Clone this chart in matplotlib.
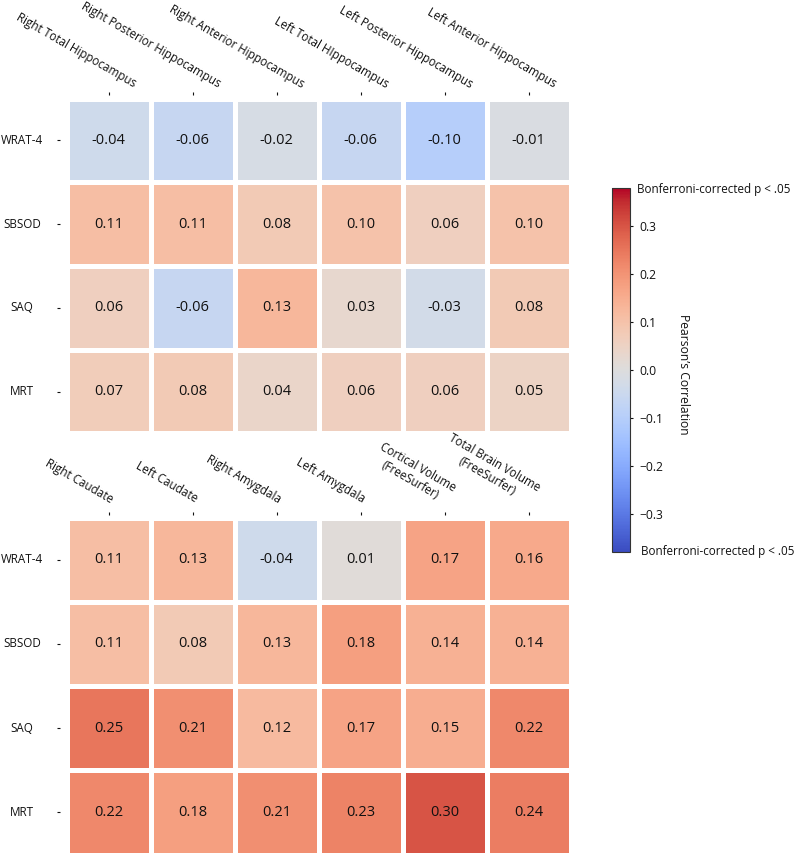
import numpy as np
import matplotlib
matplotlib.use("Agg")
import matplotlib.pyplot as plt
import seaborn as sns
from matplotlib.transforms import ScaledTranslation

plt.rcParams['font.family'] = ['Open Sans', 'DejaVu Sans']

# Data
measures = ['WRAT-4', 'SBSOD', 'SAQ', 'MRT']
hippo_regions = ['Right Total Hippocampus', 'Right Posterior Hippocampus',
                 'Right Anterior Hippocampus', 'Left Total HIppocampus',
                 'Left Posterior Hippocampus', 'Left Anterior Hippocampus']
other_regions = ['Right Caudate', 'Left Caudate', 'Right Amygdala', 'Left Amygdala',
                 'Cortical Volume\n(FreeSurfer)', 'Total Brain Volume\n(FreeSurfer)']
hippo_r = [[-0.04, -0.06, -0.02, -0.06, -0.10, -0.01],
           [0.11, 0.11, 0.08, 0.10, 0.06, 0.10],
           [0.06, -0.06, 0.13, 0.03, -0.03, 0.08],
           [0.07, 0.08, 0.04, 0.06, 0.06, 0.05]]
other_r = [[0.11, 0.13, -0.04, 0.01, 0.17, 0.16],
           [0.11, 0.08, 0.13, 0.18, 0.14, 0.14],
           [0.25, 0.21, 0.12, 0.17, 0.15, 0.22],
           [0.22, 0.18, 0.21, 0.23, 0.30, 0.24]]
cbar_ticks = [-0.3, -0.2, -0.1, 0.0, 0.1, 0.2, 0.3]
vlim = 0.38

W, H = 800, 857
fig = plt.figure(figsize=(W / 100, H / 100), dpi=100)
lab_size = 8.4


def px_axes(x0, y0, x1, y1):
    return fig.add_axes([x0 / W, 1 - y1 / H, (x1 - x0) / W, (y1 - y0) / H])


def draw_map(ax, data, cols, label_dx, tick_out, label_pad):
    sns.heatmap(np.array(data), ax=ax, cmap='coolwarm', vmin=-vlim, vmax=vlim,
                annot=True, fmt='.2f', linewidths=3.6, linecolor='white', cbar=False,
                annot_kws={'color': '#111111', 'fontsize': 10.5},
                xticklabels=cols, yticklabels=measures)
    ax.xaxis.tick_top()
    ax.spines['top'].set_position(('outward', tick_out * 0.72))
    ax.spines['left'].set_position(('outward', 6.5 * 0.72))
    ax.tick_params(axis='x', length=2.2, width=0.8, pad=label_pad * 0.72,
                   labelsize=lab_size, colors='#111111')
    ax.tick_params(axis='y', length=2.2, width=0.8, pad=35 * 0.72,
                   labelsize=lab_size, colors='#111111')
    ax.set_xticklabels(cols, rotation=-30, ha='right', va='baseline',
                       rotation_mode='anchor', multialignment='center')
    ax.set_yticklabels(measures, rotation=0, ha='center', va='center')
    off = ScaledTranslation(label_dx / 100, 0, fig.dpi_scale_trans)
    for t in ax.xaxis.get_major_ticks():
        t.label2.set_transform(t.label2.get_transform() + off)
    for sp in ax.spines.values():
        sp.set_visible(False)


ax_top = px_axes(66.5, 98.5, 570.5, 433.5)
draw_map(ax_top, hippo_r, hippo_regions, label_dx=25, tick_out=3.5, label_pad=4)

ax_bot = px_axes(66.5, 517.5, 570.5, 854.5)
draw_map(ax_bot, other_r, other_regions, label_dx=2, tick_out=2.5, label_pad=9)

# Colorbar
cax = px_axes(612, 188, 630, 552)
sm = plt.cm.ScalarMappable(cmap='coolwarm', norm=plt.Normalize(-vlim, vlim))
cbar = fig.colorbar(sm, cax=cax, ticks=cbar_ticks)
cbar.ax.tick_params(length=2.2, width=0.8, pad=4.5, labelsize=8.7, colors='#111111')
cbar.outline.set_linewidth(0.8)
cbar.outline.set_edgecolor('#333333')

fig.text(637 / W, 1 - 189 / H, 'Bonferroni-corrected p < .05', fontsize=8.4,
         ha='left', va='center', color='#111111')
fig.text(641 / W, 1 - 552 / H, 'Bonferroni-corrected p < .05', fontsize=8.4,
         ha='left', va='center', color='#111111')
fig.text(683 / W, 1 - 374 / H, 'Pearson\u2019s Correlation', fontsize=8.7,
         rotation=270, ha='center', va='center', color='#111111')

fig.savefig('out.png', dpi=100)
